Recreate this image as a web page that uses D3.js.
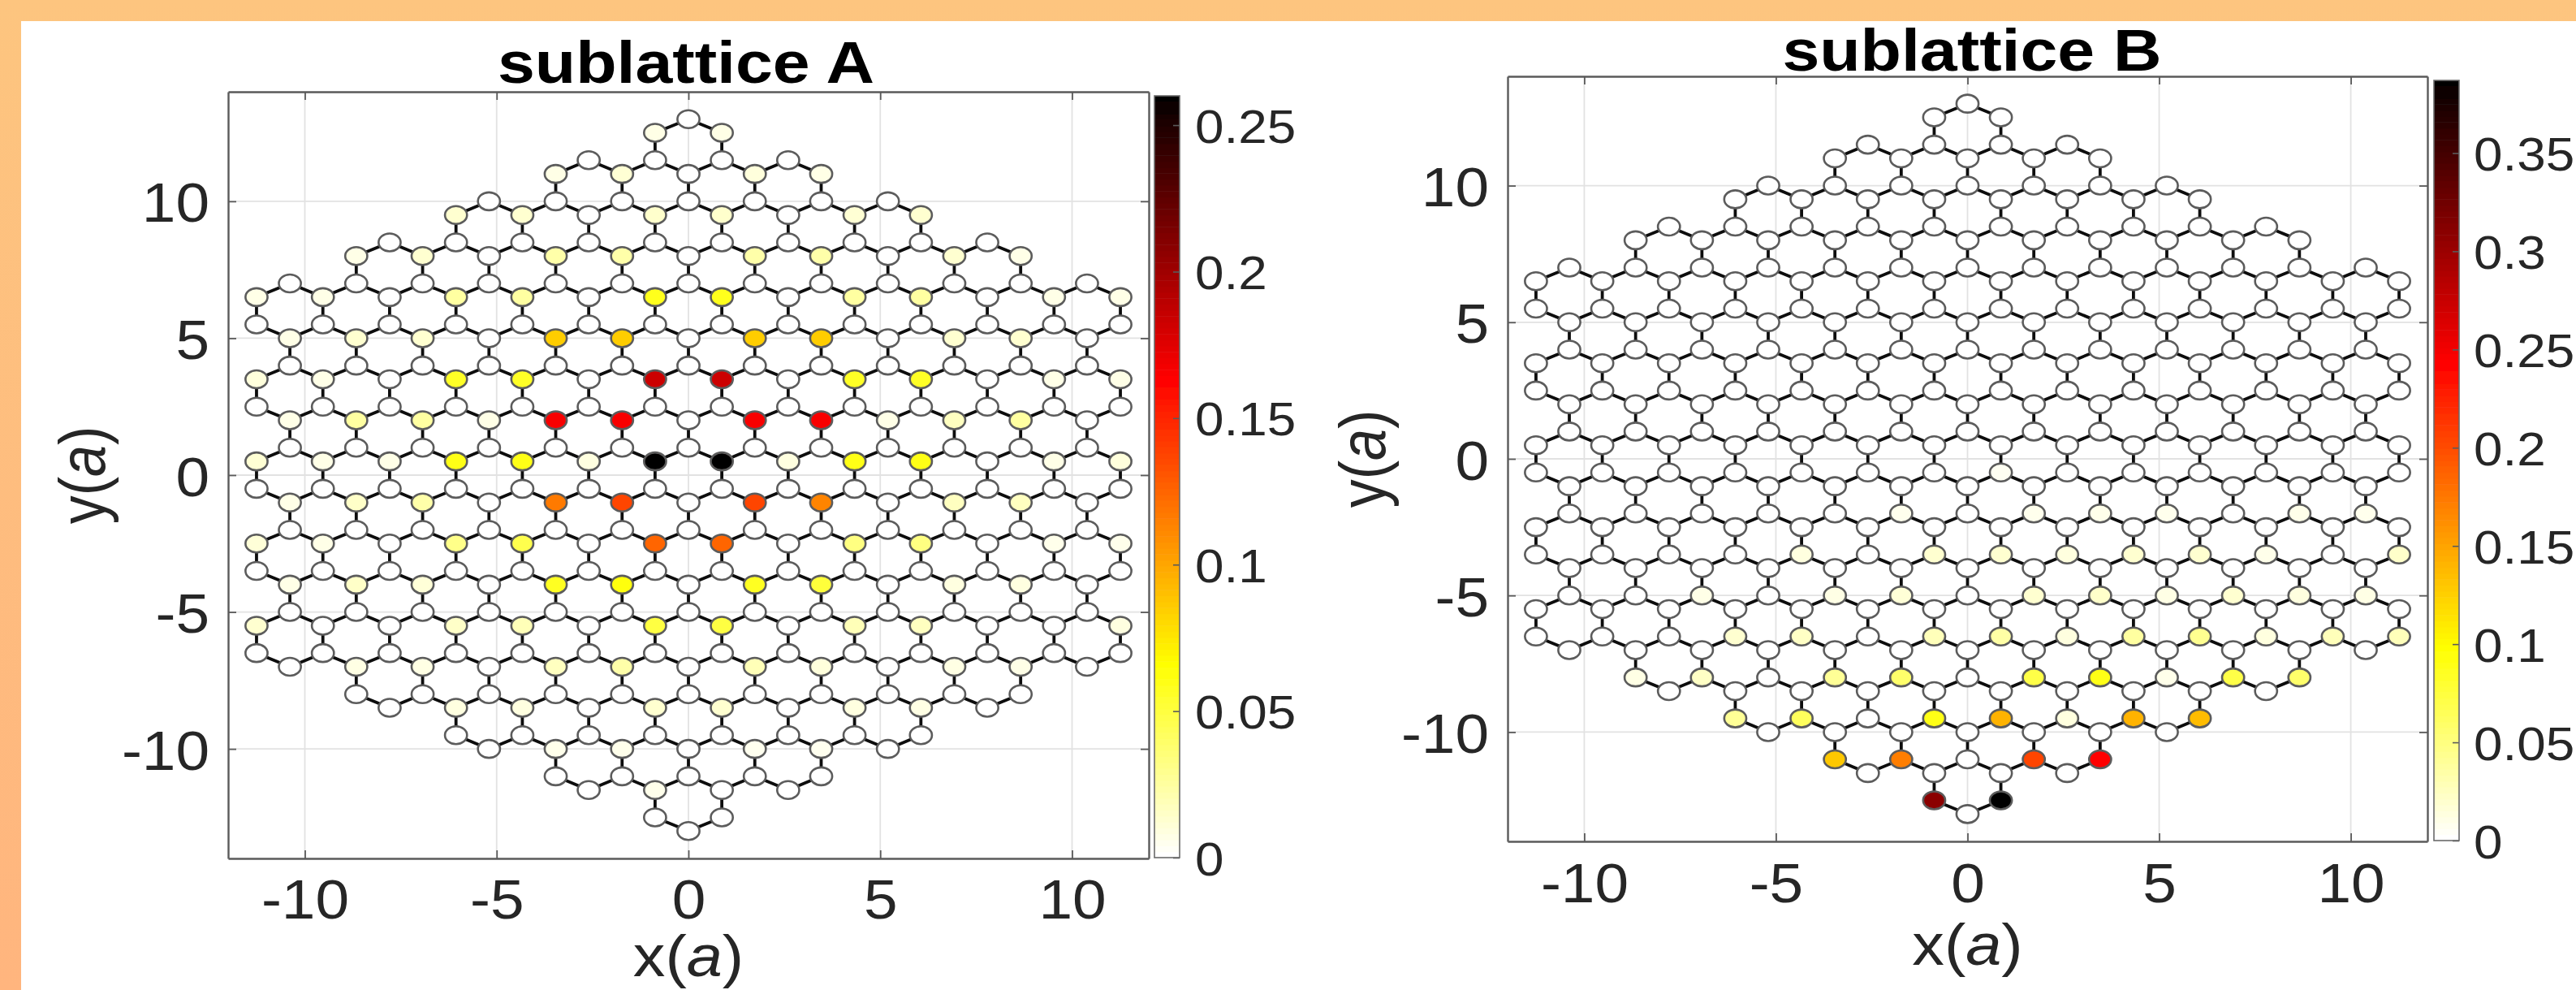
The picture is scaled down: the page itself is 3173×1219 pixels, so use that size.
<!DOCTYPE html>
<html>
<head>
<meta charset="utf-8">
<script src="https://cdn.jsdelivr.net/npm/d3@7/dist/d3.min.js"></script>
<style>
html,body{margin:0;padding:0;background:#fff;overflow:hidden}
svg{display:block}
text{font-family:"Liberation Sans",Arial,sans-serif;fill:#262626}
</style>
</head>
<body>
<svg id="chart" width="3173" height="1219"></svg>
<script>
// ---------- data ----------
const columnX = [-11.26,-10.39,-9.53,-8.66,-7.79,-6.93,-6.06,-5.2,-4.33,-3.46,-2.6,-1.73,-0.87,0,
  0.87,1.73,2.6,3.46,4.33,5.2,6.06,6.93,7.79,8.66,9.53,10.39,11.26];
const latticeRowY = [13,12.5,11.5,11,10,9.5,8.5,8,7,6.5,5.5,5,4,3.5,2.5,2,1,0.5,-0.5,-1,-2,-2.5,-3.5,-4,-5,-5.5,-6.5,-7,-8,-8.5,-9.5,-10,-11,-11.5,-12.5,-13];
const latticeRowHalfWidth = [0,1,3,4,6,7,9,10,12,13,13,12,12,13,13,12,12,13,13,12,12,13,13,12,12,13,13,12,10,9,7,6,4,3,1,0];

const rowsA = [12.5,11,9.5,8,6.5,5,3.5,2,0.5,-1,-2.5,-4,-5.5,-7,-8.5,-10,-11.5,-13];
const valuesA = [
  [.0065,.0065],
  [.0065,.011,0,.009,.0065],
  [.012,.012,0,.013,.013,0,.011,.012],
  [.006,.012,0,.022,.022,0,.022,.022,0,.012,.006],
  [.006,.006,0,.024,.024,0,.058,.058,0,.024,.024,0,.006,.006],
  [.006,.012,.012,0,.084,.084,0,.084,.084,0,.012,.012,0],
  [.009,.006,0,.055,.055,0,.182,.182,0,.055,.055,0,.006,.006],
  [.006,.024,.024,.006,.165,.165,0,.165,.165,.006,.016,.024,0],
  [.011,.006,.006,.06,.06,.008,.258,.258,.008,.06,.06,0,.006,.009],
  [.006,.014,.022,0,.116,.136,0,.136,.112,0,.016,.016,0],
  [.01,.006,0,.03,.045,0,.124,.124,0,.032,.032,0,.005,.005],
  [.006,.014,.01,0,.056,.062,0,.056,.05,0,.008,.008,0],
  [.012,0,0,.014,.018,0,.048,.048,0,.018,.016,0,0,.008],
  [0,.007,.007,0,.016,.022,0,.018,.009,0,.007,.006,0],
  [0,.008,.008,0,.012,.012,0,.008,.007,0],
  [0,.005,.005,0,.004,.004,0],
  [0,.005,0,0],
  [0]
];
const rowsB = [-0.5,-2,-3.5,-5,-6.5,-8,-9.5,-11,-12.5];
const valuesB = [
  [0,0,0,0,0,0,0,.005,0,0,0,0,0,0],
  [0,0,0,0,0,.007,0,.007,.008,.007,0,.008,.007],
  [0,0,0,0,.012,0,.018,.018,.012,.018,.018,.008,0,.02],
  [0,0,.009,0,.01,.015,0,.018,.02,.01,.018,.012,.01],
  [0,0,0,.018,.022,0,.026,.034,.012,.036,.042,.012,.026,.026],
  [.01,.022,0,.04,.056,0,.07,.09,.008,.07,.056],
  [.04,.062,0,.09,.14,.012,.14,.135],
  [.128,.17,0,.203,.242],
  [.308,.387]
];
const xTicks = [-10,-5,0,5,10];
const yTicks = [-10,-5,0,5,10];
const cbarTicksA = [0,.05,.1,.15,.2,.25];
const cbarTicksB = [0,.05,.1,.15,.2,.25,.3,.35];
const cbarMaxA = 0.26, cbarMaxB = 0.387;
const xDomain = [-12,12], yDomain = [-14,14];
const titleA = "sublattice A", titleB = "sublattice B";
// inverted "hot" colour map stops (fraction of the colour range -> colour)
const hotStops = [0,.25,.625,1];
const hotColors = ["#ffffff","#ffff00","#ff0000","#000000"];

// ---------- layout ----------
const svg = d3.select("#chart");
const defs = svg.append("defs");
const grad = defs.append("linearGradient").attr("id","bg").attr("x1",0).attr("y1",0).attr("x2",0).attr("y2",1);
grad.append("stop").attr("offset",0).attr("stop-color","#fdc57f");
grad.append("stop").attr("offset",1).attr("stop-color","#ffb57e");
defs.append("filter").attr("id","soft").attr("x",0).attr("y",0).attr("width",1).attr("height",1)
  .attr("filterUnits","objectBoundingBox")
  .append("feGaussianBlur").attr("stdDeviation",0.7);
svg.append("rect").attr("width",3173).attr("height",1219).attr("fill","url(#bg)");
svg.append("rect").attr("x",26).attr("y",26).attr("width",3147).attr("height",1193).attr("fill","#fff");
const root = svg.append("g").attr("filter","url(#soft)");
root.append("rect").attr("x",26).attr("y",26).attr("width",3147).attr("height",1193).attr("fill","#fff");

const sites = [];
latticeRowY.forEach((y,i)=>{
  const hw = latticeRowHalfWidth[i];
  for(let n=-hw;n<=hw;n+=2) sites.push({n,y,xv:columnX[n+13]});
});
const bonds = [];
for(let i=0;i<sites.length;i++)for(let j=i+1;j<sites.length;j++){
  const a=sites[i],b=sites[j];
  const dn=Math.abs(a.n-b.n),dy=Math.abs(a.y-b.y);
  if((dn===0&&dy===1)||(dn===1&&dy===0.5)) bonds.push([a,b]);
}

const SX = 1.1;
function panel(o){
  const x = d3.scaleLinear().domain(xDomain).range([o.left,o.right]);
  const y = d3.scaleLinear().domain(yDomain).range([o.bottom,o.top]);
  const color = d3.scaleLinear().domain(hotStops.map(s=>s*o.max)).range(hotColors).clamp(true);
  const g = root.append("g");

  // grid
  g.append("g").selectAll("line").data(xTicks).join("line")
    .attr("x1",d=>x(d)).attr("x2",d=>x(d)).attr("y1",o.top).attr("y2",o.bottom)
    .attr("stroke","#e2e2e2").attr("stroke-width",1.8);
  g.append("g").selectAll("line").data(yTicks).join("line")
    .attr("y1",d=>y(d)).attr("y2",d=>y(d)).attr("x1",o.left).attr("x2",o.right)
    .attr("stroke","#e2e2e2").attr("stroke-width",1.8);

  // box + ticks via d3 axes
  const style = s=>{
    s.selectAll(".domain").attr("stroke","#5a5a5a").attr("stroke-width",2.4);
    s.selectAll(".tick line").attr("stroke","#5a5a5a").attr("stroke-width",1.8);
  };
  const xb = g.append("g").attr("transform",`translate(0,${o.bottom})`)
    .call(d3.axisBottom(x).tickValues(xTicks).tickSizeInner(-10).tickSizeOuter(0).tickFormat(d=>String(d))).call(style);
  xb.selectAll("text").attr("y",null).attr("dy",null).attr("font-size",68).attr("fill","#262626")
    .attr("transform",`translate(0,${o.xLabelBase-o.bottom}) scale(${SX},1)`);
  g.append("g").attr("transform",`translate(0,${o.top})`)
    .call(d3.axisTop(x).tickValues(xTicks).tickSizeInner(-10).tickSizeOuter(0).tickFormat("")).call(style);
  const yl = g.append("g").attr("transform",`translate(${o.left},0)`)
    .call(d3.axisLeft(y).tickValues(yTicks).tickSizeInner(-10).tickSizeOuter(0).tickFormat(d=>String(d))).call(style);
  yl.selectAll("text").attr("x",null).attr("dy",null).attr("font-size",68).attr("fill","#262626")
    .attr("transform",`translate(${o.yLabelRight-o.left},25) scale(${SX},1)`);
  g.append("g").attr("transform",`translate(${o.right},0)`)
    .call(d3.axisRight(y).tickValues(yTicks).tickSizeInner(-10).tickSizeOuter(0).tickFormat("")).call(style);
  g.selectAll(".domain").attr("fill","none");

  // bonds, then sites
  g.append("g").selectAll("line").data(bonds).join("line")
    .attr("x1",d=>x(d[0].xv)).attr("y1",d=>y(d[0].y)).attr("x2",d=>x(d[1].xv)).attr("y2",d=>y(d[1].y))
    .attr("stroke","#0c0c0c").attr("stroke-width",3.8);
  const lookup = new Map();
  o.rows.forEach((ry,i)=>{
    const hw = latticeRowHalfWidth[latticeRowY.indexOf(ry)];
    o.values[i].forEach((v,k)=>lookup.set(ry+"|"+(-hw+2*k),v));
  });
  g.append("g").selectAll("ellipse").data(sites).join("ellipse")
    .attr("cx",d=>x(d.xv)).attr("cy",d=>y(d.y)).attr("rx",13.6).attr("ry",11)
    .attr("fill",d=>color(lookup.get(d.y+"|"+d.n)||0))
    .attr("stroke","#5c5c5c").attr("stroke-width",2.6);

  // title
  g.append("text").text(o.title).attr("font-weight","bold").attr("font-size",72).attr("text-anchor","middle")
    .style("fill","#000").attr("transform",`translate(${o.titleX},${o.titleY}) scale(1.145,1)`);

  // axis labels
  const xlab = g.append("text").attr("font-size",72).attr("text-anchor","middle")
    .attr("transform",`translate(${x(0)},${o.xTitleBase}) scale(${SX},1)`);
  xlab.append("tspan").text("x(");
  xlab.append("tspan").text("a").attr("font-style","italic");
  xlab.append("tspan").text(")");
  const ylab = g.append("text").attr("font-size",70).attr("text-anchor","middle")
    .attr("transform",`translate(${o.yTitleBase},${y(0)}) scale(1.15,1) rotate(-90)`);
  ylab.append("tspan").text("y(");
  ylab.append("tspan").text("a").attr("font-style","italic");
  ylab.append("tspan").text(")");

  // colour bar
  const cb = d3.scaleLinear().domain([0,o.max]).range([o.cbBottom,o.cbTop]);
  const steps = d3.range(0,o.max,o.max/128);
  g.append("g").selectAll("rect").data(steps).join("rect")
    .attr("x",o.cbLeft).attr("width",o.cbRight-o.cbLeft)
    .attr("y",d=>cb(d+o.max/128)).attr("height",d=>cb(d)-cb(d+o.max/128)+0.6)
    .attr("fill",d=>color(d));
  const cbAxis = g.append("g").attr("transform",`translate(${o.cbRight},0)`)
    .call(d3.axisRight(cb).tickValues(o.cbTicks).tickSizeInner(-8).tickSizeOuter(0).tickFormat(d=>String(+d.toFixed(2))));
  cbAxis.select(".domain").attr("stroke","none");
  cbAxis.selectAll(".tick line").attr("stroke","#5a5a5a").attr("stroke-width",1.6);
  cbAxis.selectAll("text").attr("x",null).attr("dy",null).attr("font-size",58).attr("fill","#262626").attr("text-anchor","start")
    .attr("transform",`translate(${o.cbLabelLeft-o.cbRight},21) scale(${SX},1)`);
  g.append("rect").attr("x",o.cbLeft).attr("y",o.cbTop).attr("width",o.cbRight-o.cbLeft).attr("height",o.cbBottom-o.cbTop)
    .attr("fill","none").attr("stroke","#6a6a6a").attr("stroke-width",1.6);
}

panel({left:281,right:1415,top:113,bottom:1057,max:cbarMaxA,rows:rowsA,values:valuesA,title:titleA,
  titleX:845,titleY:102,xLabelBase:1131,yLabelRight:258,xTitleBase:1202,yTitleBase:129,
  cbLeft:1422,cbRight:1453,cbTop:118,cbBottom:1056,cbTicks:cbarTicksA,cbLabelLeft:1472});
panel({left:1857,right:2990,top:94,bottom:1036,max:cbarMaxB,rows:rowsB,values:valuesB,title:titleB,
  titleX:2429,titleY:87,xLabelBase:1111,yLabelRight:1834,xTitleBase:1188,yTitleBase:1706,
  cbLeft:2998,cbRight:3029,cbTop:99,cbBottom:1035,cbTicks:cbarTicksB,cbLabelLeft:3047});
</script>
</body>
</html>
